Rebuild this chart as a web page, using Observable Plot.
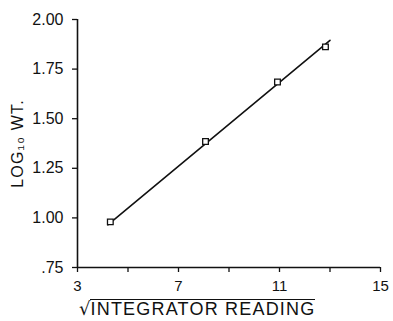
<!DOCTYPE html>
<html><head><meta charset="utf-8">
<script src="https://cdn.jsdelivr.net/npm/d3@7"></script>
<script src="https://cdn.jsdelivr.net/npm/@observablehq/plot@0.6"></script>
<style>
body{margin:0;background:#fff;font-family:"Liberation Sans",Arial,sans-serif;}
#wrap{position:relative;width:393px;height:321px;overflow:hidden;}
#xlabel{position:absolute;left:79px;top:298px;font-size:18px;letter-spacing:1.2px;color:#111;white-space:nowrap;line-height:21px;}
#xlabel .rad{font-family:"DejaVu Sans";font-size:18px;letter-spacing:0;}
#xlabel .ov{display:inline-block;border-top:1.5px solid #111;line-height:16px;padding-top:1px;}
</style></head><body>
<div id="wrap"><div id="chart"></div><div id="xlabel"><span class="rad">√</span><span class="ov">INTEGRATOR READING</span></div></div>
<script>
// Data
const xValues = [4.3, 8.07, 10.92, 12.82];
const yValues = [0.98, 1.385, 1.685, 1.862];
const fitX = [4.2, 13.0];
const fitY = [0.965, 1.895];
const xTicks = [3, 5, 7, 9, 11, 13, 15];
const xTickLabels = {3: "3", 7: "7", 11: "11", 15: "15"};
const yTicks = [0.75, 1.0, 1.25, 1.5, 1.75, 2.0];
const yTickLabels = [".75", "1.00", "1.25", "1.50", "1.75", "2.00"];
const yLabel = "LOG₁₀ WT.";

const points = xValues.map((x, i) => ({x, y: yValues[i]}));
const fit = fitX.map((x, i) => ({x, y: fitY[i]}));

const chart = Plot.plot({
  width: 393,
  height: 298,
  marginLeft: 77,
  marginRight: 13,
  marginTop: 19,
  marginBottom: 31,
  style: {fontFamily: "'Liberation Sans', Arial, sans-serif", color: "#111", background: "#fff"},
  x: {domain: [3, 15]},
  y: {domain: [0.75, 2.0]},
  marks: [
    Plot.axisX({ticks: xTicks, tickSize: 5, tickPadding: 8, fontSize: 15,
      tickFormat: d => xTickLabels[d] ?? "", label: null, strokeWidth: 1.3}),
    Plot.axisY({ticks: yTicks, tickSize: 5, tickPadding: 9, fontSize: 16,
      tickFormat: d => yTickLabels[yTicks.indexOf(d)], label: null, strokeWidth: 1.3}),
    Plot.ruleX([3], {strokeWidth: 1.6}),
    Plot.ruleY([0.75], {strokeWidth: 1.6}),
    Plot.line(fit, {x: "x", y: "y", stroke: "#111", strokeWidth: 1.6}),
    Plot.dot(points, {x: "x", y: "y", symbol: "square", r: 3.2, stroke: "#111", fill: "white", strokeWidth: 1.3}),
    Plot.text([yLabel], {text: d => d, frameAnchor: "left", textAnchor: "middle", rotate: -90, dx: -60, dy: 0,
      fontSize: 16, fill: "#111"})
  ]
});
chart.querySelectorAll("text").forEach(t => {
  if (t.textContent === yLabel) t.style.letterSpacing = "1.2px";
});
document.getElementById("chart").appendChild(chart);
</script>
</body></html>
